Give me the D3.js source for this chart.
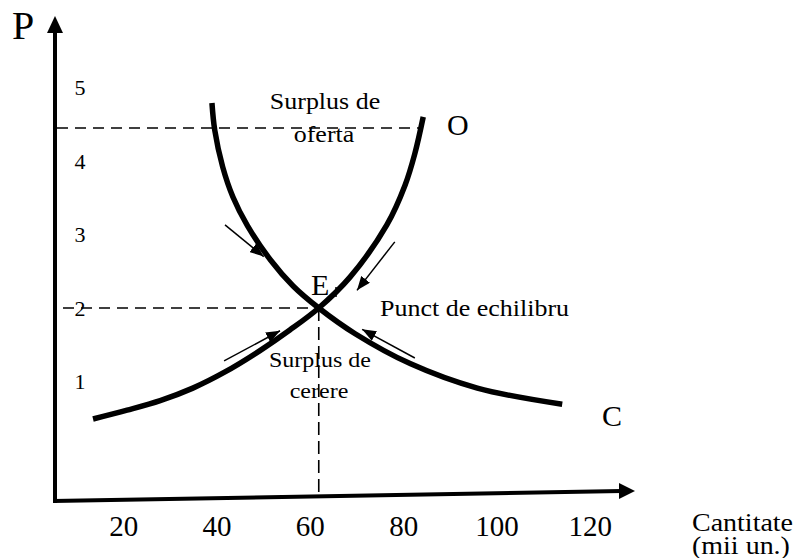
<!DOCTYPE html>
<html>
<head>
<meta charset="utf-8">
<script src="https://cdnjs.cloudflare.com/ajax/libs/d3/7.8.5/d3.min.js"></script>
<style>
  body { margin: 0; background: #fff; }
  text { font-family: "Liberation Serif", "Times New Roman", serif; fill: #000; }
</style>
</head>
<body>
<div id="vis"></div>
<script>
// Data
var xTicks = [20, 40, 60, 80, 100, 120];
var yTicks = [1, 2, 3, 4, 5];

// equilibrium point E
var eqQ = 61.8, eqP = 2.0;
// upper price level (surplus de oferta)
var highP = 4.45;

// supply curve O (q, p)
var supplyQ = [13.4, 20.7, 27.8, 34.8, 41.7, 49.2, 55.6, 61.8, 68.5, 76.4, 80.3, 82.4, 84.2];
var supplyP = [0.49, 0.61, 0.74, 0.91, 1.13, 1.42, 1.70, 2.00, 2.42, 3.13, 3.67, 4.10, 4.60];

// demand curve C (q, p)
var demandQ = [38.9, 39.5, 41.2, 43.4, 46.5, 51.5, 56.3, 61.8, 69.6, 81.5, 95.8, 114.0];
var demandP = [4.79, 4.42, 3.92, 3.51, 3.12, 2.65, 2.30, 2.00, 1.65, 1.24, 0.91, 0.69];

// adjustment arrows: start q, start p, end q, end p
var arrowQ0 = [41.7, 78.1, 41.5, 82.4];
var arrowP0 = [3.13, 2.90, 1.28, 1.32];
var arrowQ1 = [50.0, 70.0, 53.5, 71.1];
var arrowP1 = [2.70, 2.24, 1.69, 1.71];

// Layout
var W = 805, H = 558;

var svg = d3.select("#vis")
  .append("svg")
  .attr("width", W)
  .attr("height", H);

svg.append("rect").attr("width", W).attr("height", H).attr("fill", "#fff");

var x = d3.scaleLinear().domain([70, 120]).range([357, 590.2]);
var y = d3.scaleLinear().domain([0, 5]).range([455, 87.5]);

// arrow marker for the small adjustment arrows
svg.append("defs").append("marker")
  .attr("id", "head")
  .attr("viewBox", "0 0 14 11")
  .attr("refX", 14).attr("refY", 5.5)
  .attr("markerWidth", 14).attr("markerHeight", 11)
  .attr("markerUnits", "userSpaceOnUse")
  .attr("orient", "auto")
  .append("path")
  .attr("d", "M0,0L14,5.5L0,11Z")
  .attr("fill", "#000");

// text helper: a little squashed vertically, like the scanned figure
function label(g, tx, ty, size, str, anchor, sy) {
  return g.append("text")
    .attr("transform", "translate(" + tx + "," + ty + ") scale(1," + (sy || 1) + ")")
    .attr("text-anchor", anchor || "start")
    .style("font-size", size + "px")
    .text(str);
}

//////// axes ////////
var axis = svg.append("g").attr("class", "axes");

// y axis
axis.append("line")
  .attr("x1", 55).attr("y1", 503)
  .attr("x2", 55).attr("y2", 30)
  .attr("stroke", "#000").attr("stroke-width", 4);
axis.append("path")
  .attr("d", "M55,16L63,33L47,33Z")
  .attr("fill", "#000");

// x axis (slightly tilted, as in the drawing)
axis.append("line")
  .attr("x1", 53).attr("y1", 501)
  .attr("x2", 622).attr("y2", 491)
  .attr("stroke", "#000").attr("stroke-width", 4);
axis.append("path")
  .attr("d", "M635,491L619,483L619,499Z")
  .attr("fill", "#000");

// tick labels
axis.selectAll(".xlab")
  .data(xTicks)
  .enter()
  .append("text")
  .attr("class", "xlab")
  .attr("x", function(d) { return x(d); })
  .attr("y", 536)
  .attr("text-anchor", "middle")
  .style("font-size", "29px")
  .text(function(d) { return d; });

axis.selectAll(".ylab")
  .data(yTicks)
  .enter()
  .append("text")
  .attr("class", "ylab")
  .attr("x", 80)
  .attr("y", function(d) { return y(d); })
  .attr("dy", "0.35em")
  .attr("text-anchor", "middle")
  .style("font-size", "22px")
  .text(function(d) { return d; });

label(axis, 12, 39, 40, "P");
label(axis, 692, 531, 28, "Cantitate", "start", 0.88);
label(axis, 692, 554, 28, "(mii un.)", "start", 0.88);

//////// dashed guides ////////
var guides = svg.append("g")
  .attr("stroke", "#000")
  .attr("stroke-width", 1.6)
  .attr("fill", "none");

guides.append("line")
  .attr("x1", 57).attr("x2", x(83.3))
  .attr("y1", y(highP)).attr("y2", y(highP))
  .attr("stroke-dasharray", "11,7");

guides.append("line")
  .attr("x1", 63).attr("x2", x(eqQ))
  .attr("y1", y(eqP)).attr("y2", y(eqP))
  .attr("stroke-dasharray", "11,7");

guides.append("line")
  .attr("x1", x(eqQ)).attr("x2", x(eqQ))
  .attr("y1", y(eqP)).attr("y2", 496)
  .attr("stroke-dasharray", "13,6");

//////// curves ////////
var line = d3.line()
  .x(function(d) { return x(d[0]); })
  .y(function(d) { return y(d[1]); })
  .curve(d3.curveCatmullRom.alpha(0.5));

var supply = d3.zip(supplyQ, supplyP);
var demand = d3.zip(demandQ, demandP);

svg.selectAll(".curve")
  .data([supply, demand])
  .enter()
  .append("path")
  .attr("class", "curve")
  .attr("d", line)
  .attr("fill", "none")
  .attr("stroke", "#000")
  .attr("stroke-width", 5.5);

//////// arrows ////////
var arrows = d3.range(arrowQ0.length).map(function(i) {
  return [arrowQ0[i], arrowP0[i], arrowQ1[i], arrowP1[i]];
});

svg.selectAll(".arrow")
  .data(arrows)
  .enter()
  .append("line")
  .attr("class", "arrow")
  .attr("x1", function(d) { return x(d[0]); })
  .attr("y1", function(d) { return y(d[1]); })
  .attr("x2", function(d) { return x(d[2]); })
  .attr("y2", function(d) { return y(d[3]); })
  .attr("stroke", "#000")
  .attr("stroke-width", 1.5)
  .attr("marker-end", "url(#head)");

//////// labels ////////
var lab = svg.append("g");

label(lab, 325, 109, 26, "Surplus de", "middle", 0.9);
label(lab, 324, 142, 26, "oferta", "middle", 0.9);

label(lab, 320, 367, 24, "Surplus de", "middle", 0.9);
label(lab, 319, 398, 24, "cerere", "middle", 0.9);

label(lab, 311, 295, 30, "E");
lab.append("line")
  .attr("x1", 336).attr("x2", 336)
  .attr("y1", 287).attr("y2", 297)
  .attr("stroke", "#000").attr("stroke-width", 1.5);

label(lab, 380, 316, 26, "Punct de echilibru", "start", 0.9);

label(lab, 447, 135, 30, "O");
label(lab, 602, 426, 30, "C");
</script>
</body>
</html>
